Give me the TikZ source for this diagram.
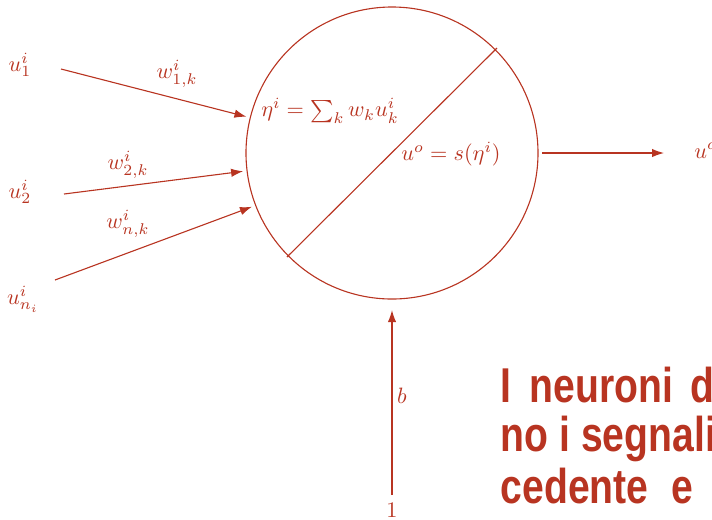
\documentclass[tikz,border=0pt]{standalone}
\usepackage{fontspec}
\usetikzlibrary{arrows.meta}
\newfontfamily\condfont[FakeStretch=0.8]{Liberation Sans}
\definecolor{nred}{RGB}{184,52,33}
\tikzset{
  conn/.style={draw=nred, line width=0.5pt, -{Latex[length=5.4pt,width=3.8pt]}},
  lbl/.style={text=nred, inner sep=0pt},
  bigtxt/.style={text=nred, inner sep=0pt, anchor=base west, font=\condfont\bfseries\fontsize{22}{23}\selectfont}
}
\begin{document}
\begin{tikzpicture}[x=0.45pt, y=-0.45pt]
\useasboundingbox (0,0) rectangle (712,519);
\clip (0,0) rectangle (712,519);
% neuron
\node[draw=nred, line width=0.5pt, circle, minimum size=131.4pt, inner sep=0pt, outer sep=1.8pt] (n) at (392,153) {};
\draw[nred, line width=0.5pt] ([shift={(-105,104)}]n.center) -- ([shift={(105,-105)}]n.center);
\node[lbl] (eta) at (330,111) {$\eta^i=\sum_k w_k u^i_k$};
\node[lbl] (out) at (451,154) {$u^o=s(\eta^i)$};
% inputs
\node[lbl] (u1) at (20,65) {$u^i_1$};
\node[lbl] (u2) at (20,192) {$u^i_2$};
\node[lbl] (un) at (23,299) {$u^i_{n_i}$};
\coordinate (s1) at (61,69);
\coordinate (s2) at (64,194);
\coordinate (s3) at (55,280);
\draw[conn] (s1) -- (n.166);
\draw[conn] (s2) -- (n.187);
\draw[conn] (s3) -- (n.201);
\node[lbl] (w1) at (177,74) {$w^i_{1,k}$};
\node[lbl] (w2) at (128,165) {$w^i_{2,k}$};
\node[lbl] (wn) at (128,224) {$w^i_{n,k}$};
% output
\coordinate (o) at (664,153);
\draw[conn] (n.east) -- (o);
\node[lbl, anchor=base west] (uo) at (694,158) {$u^o$};
% bias
\coordinate (bb) at (392,495);
\draw[conn, shorten >=3.2pt] (bb) -- (n.south);
\node[lbl] (b) at (402,396) {$b$};
\node[lbl] (one) at (392,510) {$1$};
% text
\node[bigtxt] (t1) at (500.4,402) {I\hspace{8.1pt}neuroni\hspace{8pt}d};
\node[bigtxt] (t2) at (500.4,451) {no i segnali};
\node[bigtxt] (t3) at (500.4,503) {cedente\hspace{10.3pt}e};
\end{tikzpicture}
\end{document}
